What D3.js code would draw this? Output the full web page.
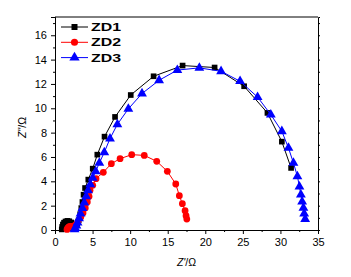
<!DOCTYPE html>
<html>
<head>
<meta charset="utf-8">
<script src="https://cdn.jsdelivr.net/npm/d3@7"></script>
<style>
  body { margin: 0; background: #fff; }
  svg { font-family: "Liberation Sans", Arial, sans-serif; }
  .axis path, .axis line { stroke: #000; }
  .axis text { font-size: 11px; fill: #000; }
</style>
</head>
<body>
<svg width="351" height="277"></svg>
<script>
// Nyquist data (Z' and -Z'' in ohm)
var seriesNames = ['ZD1', 'ZD2', 'ZD3'];
var seriesColors = ['#000000', '#ff0000', '#0000ff'];

var zd1Re = [0.9, 0.95, 1.05, 1.2, 1.4, 1.65, 1.9, 2.15, 2.4, 2.65, 2.95, 3.15, 3.35, 3.5, 3.65, 3.8, 4.0, 4.43, 5.02, 5.63, 6.59, 7.99, 10.08, 13.12, 16.98, 21.24, 25.17, 28.27, 30.19, 31.42];
var zd1Im = [0.05, 0.25, 0.45, 0.6, 0.7, 0.75, 0.72, 0.62, 0.45, 0.3, 0.4, 0.8, 1.3, 1.8, 2.3, 2.9, 3.45, 4.14, 5.04, 6.19, 7.67, 9.29, 11.09, 12.63, 13.51, 13.35, 11.81, 9.62, 7.26, 5.10];

var zd2Re = [1.6, 1.7, 1.85, 2.0, 2.2, 2.4, 2.6, 2.8, 3.06, 3.42, 3.73, 4.03, 4.30, 4.53, 4.66, 5.02, 5.46, 6.43, 7.50, 8.66, 10.21, 11.88, 13.54, 14.95, 16.07, 16.55, 16.95, 17.31, 17.44, 17.54];
var zd2Im = [0.05, 0.15, 0.25, 0.3, 0.3, 0.3, 0.35, 0.45, 0.68, 1.04, 1.40, 1.81, 2.30, 2.76, 3.26, 3.67, 4.22, 4.74, 5.45, 5.86, 6.19, 6.13, 5.64, 4.82, 3.78, 2.82, 2.16, 1.59, 1.17, 0.90];

var zd3Re = [2.6, 2.7, 2.85, 3.0, 3.2, 3.4, 3.65, 3.9, 4.15, 4.4, 4.7, 5.02, 5.42, 5.90, 6.56, 7.32, 8.30, 9.76, 11.58, 13.85, 16.28, 19.21, 22.10, 24.63, 26.96, 28.72, 30.19, 31.07, 31.73, 32.26, 32.53, 32.72, 32.89, 33.06, 33.16, 33.29];
var zd3Im = [0.05, 0.15, 0.35, 0.6, 0.95, 1.35, 1.8, 2.25, 2.75, 3.25, 3.75, 4.28, 4.82, 5.51, 6.38, 7.51, 8.68, 9.95, 11.21, 12.30, 13.14, 13.32, 13.04, 12.22, 10.92, 9.48, 8.11, 6.74, 5.51, 4.41, 3.56, 2.90, 2.33, 1.81, 1.34, 0.90];

var xTicks = [0, 5, 10, 15, 20, 25, 30, 35];
var yTicks = [0, 2, 4, 6, 8, 10, 12, 14, 16];

var svg = d3.select('svg');
var padding = {t: 17, r: 33, b: 47, l: 55};
var chartWidth = +svg.attr('width') - padding.l - padding.r;
var chartHeight = +svg.attr('height') - padding.t - padding.b;

var chartG = svg.append('g')
    .attr('transform', 'translate(' + [padding.l, padding.t] + ')');

var xScale = d3.scaleLinear().domain([0, 35]).range([0, chartWidth]);
var yScale = d3.scaleLinear().domain([0, 17.5]).range([chartHeight, 0]);

// minor ticks first, then major ones with labels
chartG.append('g')
    .attr('class', 'axis')
    .attr('transform', 'translate(' + [0, chartHeight] + ')')
    .call(d3.axisBottom(xScale).tickValues(d3.range(2.5, 35, 5)).tickSize(2).tickFormat(''));
chartG.append('g')
    .attr('class', 'axis')
    .attr('transform', 'translate(' + [0, chartHeight] + ')')
    .call(d3.axisBottom(xScale).tickValues(xTicks).tickSize(4).tickPadding(4));

chartG.append('g')
    .attr('class', 'axis')
    .call(d3.axisLeft(yScale).tickValues(d3.range(1, 17.5, 2)).tickSize(2).tickFormat(''));
chartG.append('g')
    .attr('class', 'axis')
    .call(d3.axisLeft(yScale).tickValues(yTicks).tickSize(4).tickPadding(4));

// right axis with ticks, no labels
chartG.append('g')
    .attr('class', 'axis')
    .attr('transform', 'translate(' + [chartWidth, 0] + ')')
    .call(d3.axisRight(yScale).tickValues(d3.range(1, 17.5, 1)).tickSize(2).tickFormat(''));

// top border
chartG.append('line')
    .attr('x1', 0).attr('x2', chartWidth)
    .attr('y1', 0).attr('y2', 0)
    .attr('stroke', '#000');

var allSeries = [
    {name: seriesNames[0], color: seriesColors[0], shape: d3.symbolSquare, size: 32, re: zd1Re, im: zd1Im},
    {name: seriesNames[1], color: seriesColors[1], shape: d3.symbolCircle, size: 36, re: zd2Re, im: zd2Im},
    {name: seriesNames[2], color: seriesColors[2], shape: d3.symbolTriangle, size: 42, re: zd3Re, im: zd3Im}
];

var line = d3.line()
    .x(function(d) { return xScale(d[0]); })
    .y(function(d) { return yScale(d[1]); });

allSeries.forEach(function(s) {
    var pts = s.re.map(function(v, i) { return [v, s.im[i]]; });
    chartG.append('path')
        .datum(pts)
        .attr('d', line)
        .attr('fill', 'none')
        .attr('stroke', s.color)
        .attr('stroke-width', 1);
    chartG.selectAll('.pt-' + s.name)
        .data(pts)
        .enter()
        .append('path')
        .attr('d', d3.symbol().type(s.shape).size(s.size))
        .attr('fill', s.color)
        .attr('transform', function(d) {
            return 'translate(' + [xScale(d[0]), yScale(d[1])] + ')';
        });
});

// legend
var legendG = chartG.append('g').attr('transform', 'translate(6,10)');
allSeries.forEach(function(s, i) {
    var row = legendG.append('g').attr('transform', 'translate(0,' + (i * 15.3) + ')');
    row.append('line')
        .attr('x1', 0).attr('x2', 27)
        .attr('stroke', s.color).attr('stroke-width', 1);
    row.append('path')
        .attr('d', d3.symbol().type(s.shape).size(s.size + 4))
        .attr('fill', s.color)
        .attr('transform', 'translate(13.5,0)');
    row.append('text')
        .attr('x', 30).attr('y', 4)
        .attr('font-size', '11px')
        .attr('font-weight', 'bold')
        .attr('textLength', 30)
        .attr('lengthAdjust', 'spacingAndGlyphs')
        .text(s.name);
});

// axis titles
var xTitle = svg.append('text')
    .attr('x', padding.l + chartWidth / 2)
    .attr('y', 266)
    .attr('text-anchor', 'middle')
    .attr('font-size', '10.5px');
xTitle.append('tspan').attr('font-style', 'italic').text('Z\'');
xTitle.append('tspan').text('/Ω');

var yTitle = svg.append('text')
    .attr('transform', 'translate(26,' + (padding.t + chartHeight / 2 + 4) + ') rotate(-90)')
    .attr('text-anchor', 'middle')
    .attr('font-size', '10.5px');
yTitle.append('tspan').attr('font-style', 'italic').text('Z\'\'');
yTitle.append('tspan').text('/Ω');
</script>
</body>
</html>
